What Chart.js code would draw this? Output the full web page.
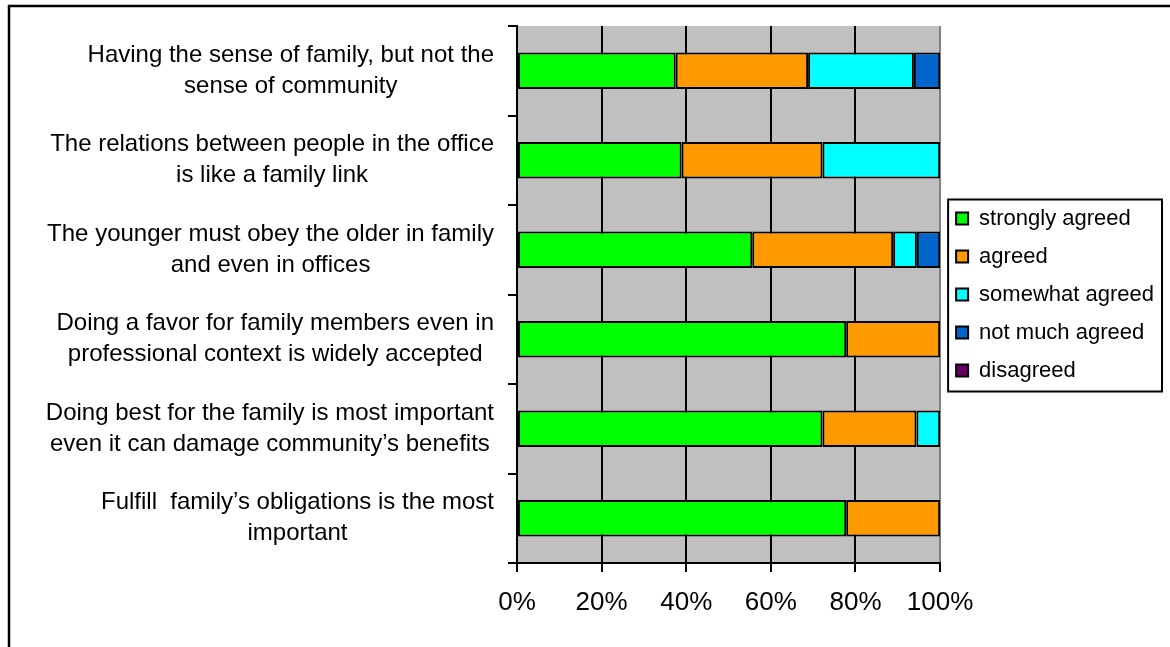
<!DOCTYPE html>
<html>
<head>
<meta charset="utf-8">
<title>Family values survey</title>
<script src="https://cdn.jsdelivr.net/npm/chart.js@4.4.1/dist/chart.umd.min.js"></script>
<style>
  html, body { margin: 0; padding: 0; background: #fff; }
  #chart { display: block; }
</style>
</head>
<body>
<canvas id="chart" width="1170" height="647"></canvas>
<script>
// Statements, top to bottom (each one split into its two display lines)
const statements = [
    ['Having the sense of family, but not the', 'sense of community'],
    ['The relations between people in the office', 'is like a family link'],
    ['The younger must obey the older in family', 'and even in offices'],
    ['Doing a favor for family members even in', 'professional context is widely accepted'],
    ['Doing best for the family is most important', 'even it can damage community\u2019s benefits'],
    ['Fulfill  family\u2019s obligations is the most', 'important']
];

// Share of answers (%) for every statement
const stronglyAgreed = [37.5, 38.9, 55.6, 77.8, 72.2, 77.8];
const agreed         = [31.3, 33.3, 33.3, 22.2, 22.2, 22.2];
const somewhatAgreed = [25.0, 27.8,  5.6,  0.0,  5.6,  0.0];
const notMuchAgreed  = [ 6.2,  0.0,  5.5,  0.0,  0.0,  0.0];
const disagreed      = [ 0.0,  0.0,  0.0,  0.0,  0.0,  0.0];

const percentTicks = [0, 20, 40, 60, 80, 100];

const FONT = "'Liberation Sans', Arial, sans-serif";
const LEGEND_SIZE = 22;

// Grey plot background and the outer frame
const backdropPlugin = {
    id: 'backdrop',
    beforeDraw(chart) {
        const {ctx, chartArea: a} = chart;
        ctx.save();
        ctx.fillStyle = '#c0c0c0';
        ctx.fillRect(a.left, a.top, a.right - a.left, a.bottom - a.top);
        ctx.strokeStyle = '#000';
        ctx.lineWidth = 2.5;
        ctx.strokeRect(9, 6, chart.width + 20, chart.height + 20);
        ctx.restore();
    }
};

// Category labels: lines centred within each label, block right-aligned to the axis
const categoryLabelPlugin = {
    id: 'categoryLabels',
    afterDraw(chart) {
        const {ctx} = chart;
        const yScale = chart.scales.y;
        const lineH = 31;
        const right = chart.chartArea.left - 23;
        ctx.save();
        ctx.font = '24px ' + FONT;
        ctx.fillStyle = '#000';
        ctx.textAlign = 'center';
        ctx.textBaseline = 'middle';
        chart.data.labels.forEach((lines, i) => {
            const widest = Math.max(...lines.map(l => ctx.measureText(l).width));
            const cx = right - widest / 2;
            const cy = yScale.getPixelForValue(i);
            const y0 = cy - (lines.length - 1) * lineH / 2;
            lines.forEach((l, k) => ctx.fillText(l, cx, y0 + k * lineH));
        });
        ctx.restore();
    }
};

// Frame around the legend
const legendFramePlugin = {
    id: 'legendFrame',
    afterDraw(chart) {
        const L = chart.legend;
        if (!L || !L.columnSizes) return;
        const {ctx} = chart;
        const pad = L.options.labels.padding;
        const colH = L.columnSizes[0].height;
        const startY = (L.top + pad + L.bottom - colH) / 2;
        ctx.save();
        ctx.font = LEGEND_SIZE + 'px ' + FONT;
        const textW = Math.max(...L.legendItems.map(it => ctx.measureText(it.text).width));
        const x0 = L.left + pad - 8;
        const x1 = L.left + pad + 12 + LEGEND_SIZE / 2 + textW + 8;
        ctx.strokeStyle = '#000';
        ctx.lineWidth = 2;
        ctx.strokeRect(x0, startY - 8, x1 - x0, colH + 2);
        ctx.restore();
    }
};

function makeSeries(label, data, color) {
    return {
        label: label,
        data: data,
        backgroundColor: color,
        borderColor: '#000',
        borderWidth: 2,
        borderSkipped: false,
        inflateAmount: 0,
        barPercentage: 0.41,
        categoryPercentage: 1.0
    };
}

const ctx = document.getElementById('chart').getContext('2d');
new Chart(ctx, {
    type: 'bar',
    data: {
        labels: statements,
        datasets: [
            makeSeries('strongly agreed', stronglyAgreed, '#00ff00'),
            makeSeries('agreed', agreed, '#ff9900'),
            makeSeries('somewhat agreed', somewhatAgreed, '#00ffff'),
            makeSeries('not much agreed', notMuchAgreed, '#0066cc'),
            makeSeries('disagreed', disagreed, '#660066')
        ]
    },
    options: {
        indexAxis: 'y',
        responsive: false,
        animation: false,
        devicePixelRatio: 1,
        layout: {
            padding: { left: 0, top: 26, right: 6, bottom: 24 }
        },
        plugins: {
            legend: {
                position: 'right',
                fullSize: false,
                align: 'center',
                labels: {
                    boxWidth: 12,
                    boxHeight: 12,
                    padding: 16,
                    color: '#000',
                    font: { family: FONT, size: LEGEND_SIZE }
                }
            },
            tooltip: {
                callbacks: {
                    title: items => items[0].label.replace(/,/g, ' '),
                    label: c => `${c.dataset.label}: ${c.parsed.x}%`
                }
            }
        },
        scales: {
            x: {
                stacked: true,
                min: 0,
                max: 100,
                afterBuildTicks: scale => {
                    scale.ticks = percentTicks.map(v => ({ value: v }));
                },
                afterFit: scale => { scale.height = 60; },
                grid: {
                    color: c => (c.tick && c.tick.value === 100 ? '#808080' : '#000'),
                    lineWidth: 2,
                    tickLength: 9,
                    tickColor: '#000'
                },
                border: { color: '#000', width: 2 },
                ticks: {
                    padding: 15,
                    color: '#000',
                    font: { family: FONT, size: 26 },
                    callback: v => v + '%'
                }
            },
            y: {
                stacked: true,
                afterFit: scale => { scale.width = 517; },
                grid: {
                    offset: true,
                    drawOnChartArea: false,
                    drawTicks: true,
                    tickLength: 9,
                    color: '#000',
                    lineWidth: 2
                },
                border: { color: '#000', width: 2 },
                ticks: { display: false }
            }
        }
    },
    plugins: [backdropPlugin, categoryLabelPlugin, legendFramePlugin]
});
</script>
</body>
</html>
